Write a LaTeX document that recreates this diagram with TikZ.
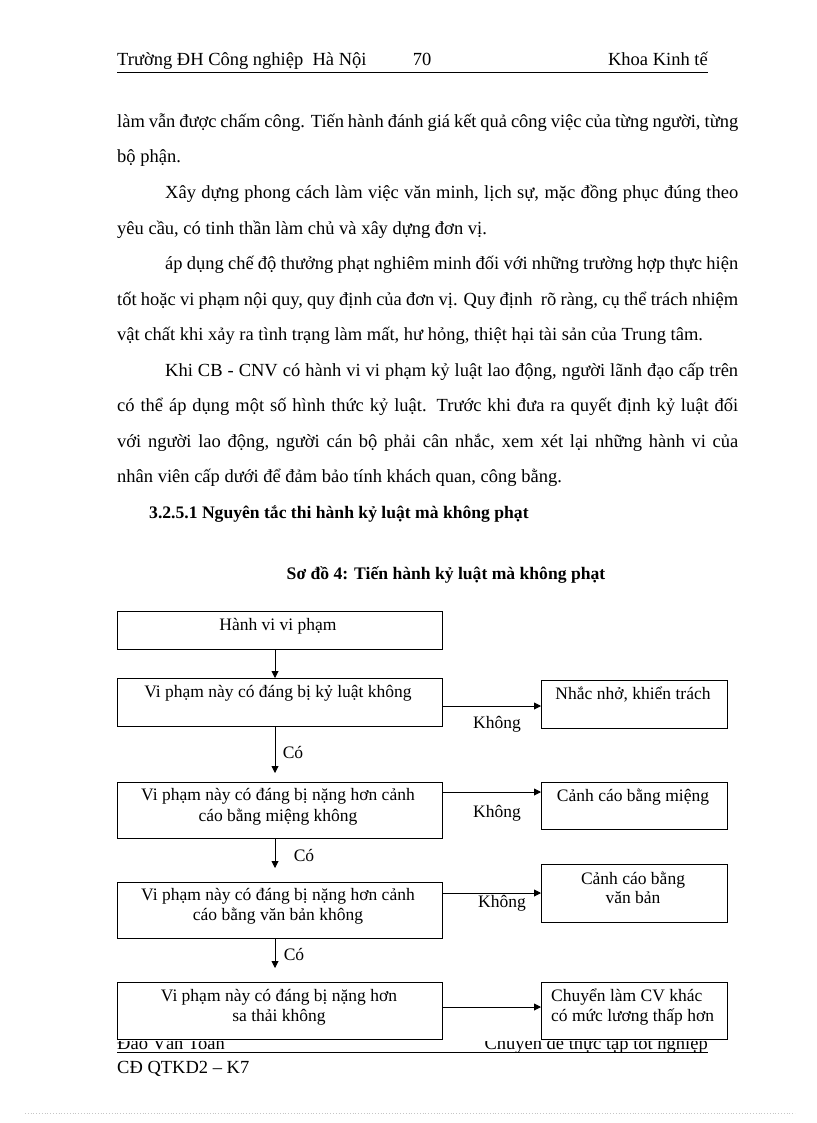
\documentclass[tikz,border=0pt]{standalone}
\usepackage{fontspec}
\setmainfont{Liberation Serif}
\usetikzlibrary{arrows.meta}
\begin{document}
\begin{tikzpicture}[x=1pt,y=-1pt,
  box/.style={draw=black, line width=0.9pt, fill=white, inner sep=0pt, anchor=north west},
  btxt/.style={font=\fontsize{17.5}{20}\selectfont, inner sep=0pt, anchor=base},
  ltxt/.style={font=\fontsize{17.5}{20}\selectfont, inner sep=0pt, anchor=base west},
  body/.style={font=\fontsize{18.5}{22}\selectfont, inner sep=0pt, anchor=base west},
  bhead/.style={font=\fontsize{17.6}{22}\selectfont\bfseries, inner sep=0pt},
  arr/.style={-{Triangle[length=7pt,width=7pt]}, line width=0.9pt},
  rule/.style={line width=0.9pt}]
\useasboundingbox (0,0) rectangle (816,1123);
\fill[white] (0,0) rectangle (816,1123);

% header
\node[body] (hd1) at (117,66) {Trường ĐH Công nghiệp\ \ Hà Nội};
\node[body, anchor=base] (hd2) at (422,66) {70};
\node[body, anchor=base east] (hd3) at (708,66) {Khoa Kinh tế};
\coordinate (hl1) at (117,72); \coordinate (hl2) at (708,72);
\draw[rule] (hl1) -- (hl2);

% body text
\node[body] (p1) at (117,127.5) {\makebox[621pt][s]{làm vẫn được chấm công. Tiến hành đánh giá kết quả công việc của từng người, từng}};
\node[body] (p2) at (117,163) {bộ phận.};
\node[body] (p3) at (165,198.5) {\makebox[573pt][s]{Xây dựng phong cách làm việc văn minh, lịch sự, mặc đồng phục đúng theo}};
\node[body] (p4) at (117,234) {yêu cầu, có tinh thần làm chủ và xây dựng đơn vị.};
\node[body] (p5) at (165,269.5) {\makebox[573pt][s]{áp dụng chế độ thưởng phạt nghiêm minh đối với những trường hợp thực hiện}};
\node[body] (p6) at (117,305) {\makebox[621pt][s]{tốt hoặc vi phạm nội quy, quy định của đơn vị. Quy định\ \ rõ ràng, cụ thể trách nhiệm}};
\node[body] (p7) at (117,340.5) {vật chất khi xảy ra tình trạng làm mất, hư hỏng, thiệt hại tài sản của Trung tâm.};
\node[body] (p8) at (165,376) {\makebox[573pt][s]{Khi CB - CNV có hành vi vi phạm kỷ luật lao động, người lãnh đạo cấp trên}};
\node[body] (p9) at (117,411.5) {\makebox[621pt][s]{có thể áp dụng một số hình thức kỷ luật. Trước khi đưa ra quyết định kỷ luật đối}};
\node[body] (p10) at (117,447) {\makebox[621pt][s]{với người lao động, người cán bộ phải cân nhắc, xem xét lại những hành vi của}};
\node[body] (p11) at (117,482.5) {nhân viên cấp dưới để đảm bảo tính khách quan, công bằng.};
\node[bhead, anchor=base west] (sec) at (149,518.5) {3.2.5.1 Nguyên tắc thi hành kỷ luật mà không phạt};
\node[bhead, anchor=base] (title) at (446,579.5) {Sơ đồ 4: Tiến hành kỷ luật mà không phạt};

% footer (partly hidden by the diagram canvas)
\node[body] (f1) at (117,1049.5) {Đào Văn Toàn};
\node[body, anchor=base east] (f2) at (708,1049.5) {Chuyên đề thực tập tốt nghiệp};
\coordinate (fl1) at (117,1052); \coordinate (fl2) at (708,1052);
\draw[rule] (fl1) -- (fl2);
\node[body] (f3) at (117,1073) {CĐ QTKD2 – K7};
\fill[white] (100,598) rectangle (740,1041);
\coordinate (dl1) at (25,1113); \coordinate (dl2) at (795,1113);
\draw[gray!45, dotted, line width=0.8pt] (dl1) -- (dl2);

% diagram boxes
\node[box, minimum width=325pt, minimum height=38pt] (b1) at (117,611) {};
\node[box, minimum width=325pt, minimum height=48pt] (b2) at (117,678) {};
\node[box, minimum width=325pt, minimum height=56pt] (b3) at (117,782) {};
\node[box, minimum width=325pt, minimum height=56pt] (b4) at (117,882) {};
\node[box, minimum width=325pt, minimum height=57pt] (b5) at (117,982) {};
\node[box, minimum width=186pt, minimum height=48pt] (r1) at (541,680) {};
\node[box, minimum width=186pt, minimum height=47pt] (r2) at (541,782) {};
\node[box, minimum width=186pt, minimum height=58pt] (r3) at (541,864) {};
\node[box, minimum width=186pt, minimum height=57pt] (r4) at (541,982) {};

% box texts
\node[btxt] (t1) at (278,630.5) {Hành vi vi phạm};
\node[btxt] (t2) at (278,697.5) {Vi phạm này có đáng bị kỷ luật không};
\node[btxt] (t3a) at (278,800.5) {Vi phạm này có đáng bị nặng hơn cảnh};
\node[btxt] (t3b) at (278,821.5) {cáo bằng miệng không};
\node[btxt] (t4a) at (278,900.5) {Vi phạm này có đáng bị nặng hơn cảnh};
\node[btxt] (t4b) at (278,920.5) {cáo bằng văn bản không};
\node[btxt] (t5a) at (279,1001.5) {Vi phạm này có đáng bị nặng hơn};
\node[btxt] (t5b) at (279,1021.5) {sa thải không};
\node[btxt] (u1) at (633,699.5) {Nhắc nhở, khiển trách};
\node[btxt] (u2) at (633,801.5) {Cảnh cáo bằng miệng};
\node[btxt] (u3a) at (633,884.5) {Cảnh cáo bằng};
\node[btxt] (u3b) at (633,903.5) {văn bản};
\node[ltxt] (u4a) at (551,1001.5) {Chuyển làm CV khác};
\node[ltxt] (u4b) at (551,1021.5) {có mức lương thấp hơn};

% vertical connectors
\coordinate (ax) at (275,0);
\coordinate (e2) at (275,773);
\coordinate (e3) at (275,868);
\coordinate (e4) at (275,968);
\draw[arr] (b1.south -| ax) -- (b2.north -| ax);
\draw[arr] (b2.south -| ax) -- (e2);
\draw[arr] (b3.south -| ax) -- (e3);
\draw[arr] (b4.south -| ax) -- (e4);
\node[btxt] (c1) at (293,758.5) {Có};
\node[btxt] (c2) at (304,861.5) {Có};
\node[btxt] (c3) at (294,960.5) {Có};

% horizontal connectors
\coordinate (h1) at (0,706);
\coordinate (h2) at (0,792);
\coordinate (h3) at (0,893);
\coordinate (h4) at (0,1007);
\draw[arr] (b2.east |- h1) -- (r1.west |- h1);
\draw[arr] (b3.east |- h2) -- (r2.west |- h2);
\draw[arr] (b4.east |- h3) -- (r3.west |- h3);
\draw[arr] (b5.east |- h4) -- (r4.west |- h4);
\node[btxt] (k1) at (497,728.5) {Không};
\node[btxt] (k2) at (497,817.5) {Không};
\node[btxt] (k3) at (502,907.5) {Không};
\end{tikzpicture}
\end{document}
